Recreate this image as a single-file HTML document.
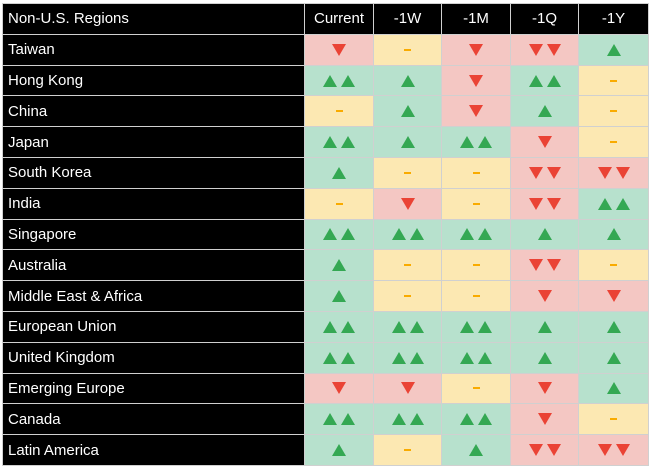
<!DOCTYPE html><html><head><style>
body{margin:0;background:#fff;width:650px;height:468px;overflow:hidden}
table{position:absolute;left:2px;top:3px;border-collapse:collapse;table-layout:fixed;font-family:"Liberation Sans",sans-serif}
td{border:1px solid #d0d0d0;height:29.8px;padding:0;text-align:center;font-size:15px;line-height:12px}
td.l{background:#000;color:#fff;text-align:left;padding-left:5px;line-height:normal}
tr.h td{background:#000;color:#fff;line-height:normal}
.r{background:#f4c7c3}.g{background:#b7e1cd}.y{background:#fce8b2}
i{display:inline-block;width:0;height:0;border-left:7px solid transparent;border-right:7px solid transparent;margin:0 2px;vertical-align:middle}
.g i{border-bottom:12px solid #34a853}
.r i{border-top:12px solid #ea4335}
.y i{border:0;width:7px;height:2px;background:#f9ab00}
</style></head><body>
<table>
<colgroup><col style="width:302px"><col style="width:69px"><col style="width:68px"><col style="width:69px"><col style="width:68px"><col style="width:70px"></colgroup>
<tr class="h"><td class="l">Non-U.S. Regions</td><td>Current</td><td>-1W</td><td>-1M</td><td>-1Q</td><td>-1Y</td></tr>
<tr><td class="l">Taiwan</td><td class="r"><i></i></td><td class="y"><i></i></td><td class="r"><i></i></td><td class="r"><i></i><i></i></td><td class="g"><i></i></td></tr>
<tr><td class="l">Hong Kong</td><td class="g"><i></i><i></i></td><td class="g"><i></i></td><td class="r"><i></i></td><td class="g"><i></i><i></i></td><td class="y"><i></i></td></tr>
<tr><td class="l">China</td><td class="y"><i></i></td><td class="g"><i></i></td><td class="r"><i></i></td><td class="g"><i></i></td><td class="y"><i></i></td></tr>
<tr><td class="l">Japan</td><td class="g"><i></i><i></i></td><td class="g"><i></i></td><td class="g"><i></i><i></i></td><td class="r"><i></i></td><td class="y"><i></i></td></tr>
<tr><td class="l">South Korea</td><td class="g"><i></i></td><td class="y"><i></i></td><td class="y"><i></i></td><td class="r"><i></i><i></i></td><td class="r"><i></i><i></i></td></tr>
<tr><td class="l">India</td><td class="y"><i></i></td><td class="r"><i></i></td><td class="y"><i></i></td><td class="r"><i></i><i></i></td><td class="g"><i></i><i></i></td></tr>
<tr><td class="l">Singapore</td><td class="g"><i></i><i></i></td><td class="g"><i></i><i></i></td><td class="g"><i></i><i></i></td><td class="g"><i></i></td><td class="g"><i></i></td></tr>
<tr><td class="l">Australia</td><td class="g"><i></i></td><td class="y"><i></i></td><td class="y"><i></i></td><td class="r"><i></i><i></i></td><td class="y"><i></i></td></tr>
<tr><td class="l">Middle East &amp; Africa</td><td class="g"><i></i></td><td class="y"><i></i></td><td class="y"><i></i></td><td class="r"><i></i></td><td class="r"><i></i></td></tr>
<tr><td class="l">European Union</td><td class="g"><i></i><i></i></td><td class="g"><i></i><i></i></td><td class="g"><i></i><i></i></td><td class="g"><i></i></td><td class="g"><i></i></td></tr>
<tr><td class="l">United Kingdom</td><td class="g"><i></i><i></i></td><td class="g"><i></i><i></i></td><td class="g"><i></i><i></i></td><td class="g"><i></i></td><td class="g"><i></i></td></tr>
<tr><td class="l">Emerging Europe</td><td class="r"><i></i></td><td class="r"><i></i></td><td class="y"><i></i></td><td class="r"><i></i></td><td class="g"><i></i></td></tr>
<tr><td class="l">Canada</td><td class="g"><i></i><i></i></td><td class="g"><i></i><i></i></td><td class="g"><i></i><i></i></td><td class="r"><i></i></td><td class="y"><i></i></td></tr>
<tr><td class="l">Latin America</td><td class="g"><i></i></td><td class="y"><i></i></td><td class="g"><i></i></td><td class="r"><i></i><i></i></td><td class="r"><i></i><i></i></td></tr>
</table></body></html>
